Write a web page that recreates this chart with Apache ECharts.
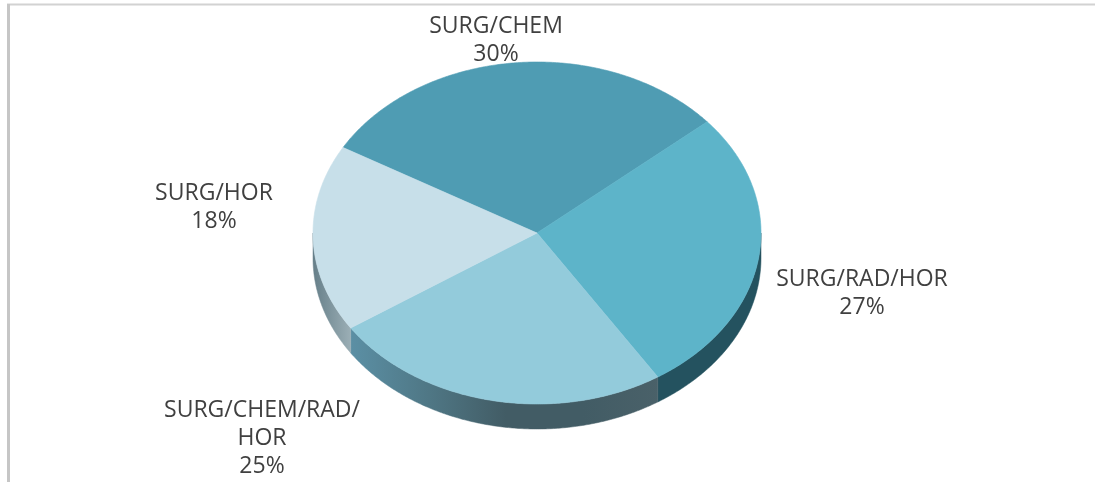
<!DOCTYPE html>
<html><head><meta charset="utf-8">
<style>html,body{margin:0;padding:0;background:#fff}#c{width:1095px;height:482px}</style>
<script src="https://cdn.jsdelivr.net/npm/echarts@6/dist/echarts.min.js"></script>
</head><body><div id="c"></div>
<script>
const categories = ['SURG/CHEM', 'SURG/RAD/HOR', 'SURG/CHEM/RAD/HOR', 'SURG/HOR'];
const values = [30.4, 27.2, 24.7, 17.7];
const labelLines = [['SURG/CHEM'], ['SURG/RAD/HOR'], ['SURG/CHEM/RAD/', 'HOR'], ['SURG/HOR']];

const topColors = ['#4f9cb3', '#5db4c9', '#93cbdb', '#c7dfe9'];
const labelAnchors = [[496, 26], [862, 279], [262, 410], [214, 193]];
const pie = {cx: 537, cy: 233, rx: 224, ry: 171, depth: 25, start: 300};

const sideFill = i => {
  const grad = (x, x2, stops) => new echarts.graphic.LinearGradient(x, 0, x2, 0,
    stops.map((c, k) => ({offset: k / (stops.length - 1), color: c})), true);
  if (i === 1) return '#24525f';
  if (i === 2) return grad(352, 660, ['#5b8fa4', '#4f7785', '#425c65', '#425c65', '#4a6169']);
  if (i === 3) return grad(313, 352, ['#667f89', '#9db0b7']);
  return '#2f6474';
};

const total = values.reduce((a, b) => a + b, 0);
const spans = [];
values.reduce((acc, v) => { spans.push([acc, acc + v / total * 360]); return acc + v / total * 360; }, pie.start);
const pt = (deg, dy) => {
  const r = deg * Math.PI / 180;
  return [pie.cx + pie.rx * Math.sin(r), pie.cy - pie.ry * Math.cos(r) + dy];
};
const arc = (a, b, dy) => {
  const pts = [], n = Math.max(2, Math.ceil((b - a) * 2));
  for (let k = 0; k <= n; k++) pts.push(pt(a + (b - a) * k / n, dy));
  return pts;
};
const visibleSide = (a, b) => {
  // the rim shows only where the outline faces the viewer (90 to 270 degrees, modulo a turn)
  for (const off of [0, 360]) {
    const lo = Math.max(a, 90 + off), hi = Math.min(b, 270 + off);
    if (hi > lo) return [lo, hi];
  }
  return null;
};

const chart = echarts.init(document.getElementById('c'), null, {renderer: 'canvas'});
chart.setOption({
  animation: false,
  backgroundColor: '#ffffff',
  graphic: [
    {type: 'line', shape: {x1: 7, y1: 4.5, x2: 1095, y2: 4.5}, style: {stroke: '#d2d2d2', lineWidth: 2}},
    {type: 'line', shape: {x1: 8.5, y1: 4, x2: 8.5, y2: 482}, style: {stroke: '#c6c6c6', lineWidth: 3}}
  ],
  series: [
    {
      type: 'custom', coordinateSystem: 'none', silent: true, z: 2,
      data: values.map((v, i) => ({name: categories[i], value: [v, i]})),
      renderItem(params, api) {
        const i = api.value(1);
        const vis = visibleSide(spans[i][0], spans[i][1]);
        if (!vis) return {type: 'group', children: []};
        const points = arc(vis[0], vis[1], 0).concat(arc(vis[0], vis[1], pie.depth).reverse());
        const fill = sideFill(i);
        return {type: 'polygon', shape: {points}, style: {fill, stroke: fill, lineWidth: 0.5}};
      }
    },
    {
      type: 'custom', coordinateSystem: 'none', silent: true, z: 3,
      data: values.map((v, i) => ({name: categories[i], value: [v, i]})),
      renderItem(params, api) {
        const i = api.value(1);
        const points = [[pie.cx, pie.cy]].concat(arc(spans[i][0], spans[i][1], 0));
        return {type: 'polygon', shape: {points},
          style: {fill: topColors[i], stroke: topColors[i], lineWidth: 0.6}};
      }
    },
    {
      type: 'custom', coordinateSystem: 'none', silent: true, z: 4,
      data: values.map((v, i) => ({name: categories[i], value: [v, i]})),
      renderItem(params, api) {
        const i = api.value(1);
        const lines = labelLines[i].concat([Math.round(api.value(0)) + '%']);
        return {type: 'group', children: lines.map((t, k) => ({
          type: 'text',
          style: {text: t, x: labelAnchors[i][0], y: labelAnchors[i][1] + k * 28,
            fill: '#404040', font: '23px "Open Sans", sans-serif', align: 'center', verticalAlign: 'middle'}
        }))};
      }
    }
  ]
});
</script></body></html>
